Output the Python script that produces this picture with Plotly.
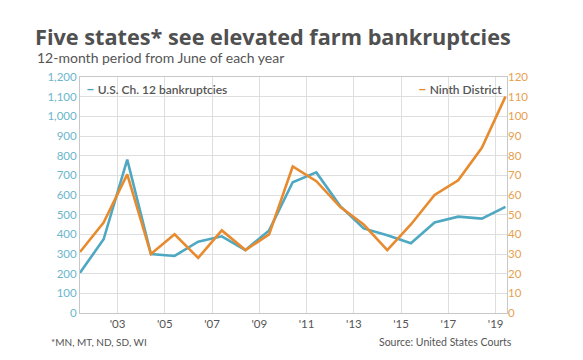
import plotly.graph_objects as go

years = list(range(2001, 2020))
us_ch12 = [205, 375, 780, 300, 290, 363, 390, 320, 420, 665, 715, 545, 430, 395, 355, 460, 490, 480, 540]
ninth = [31, 46, 70.5, 30, 40, 28, 42, 32, 40, 74.5, 67, 54, 45, 32, 45, 60, 67.5, 84, 110]

x_dates = [f"{y}-06-01" for y in years]

BLUE = "#4fa8c2"
ORANGE = "#e88a2e"
GRID = "#dedede"
TXT = "#555555"
FONT = "Lato"

# page has an 8px body margin; figure is sized/placed to compensate
OFF = 8
W, H = 583 - OFF, 360 - OFF
PL, PR, PT, PB = 80, 506.7, 77, 313   # plot box in page pixels
PW, PH = PR - PL, PB - PT

def px_x(x):
    return (x - PL) / PW

def px_y(y):
    return (PB - y) / PH

fig = go.Figure()
fig.add_trace(go.Scatter(x=x_dates, y=us_ch12, mode="lines", name="U.S. Ch. 12 bankruptcies",
                         line=dict(color=BLUE, width=2.6), yaxis="y"))
fig.add_trace(go.Scatter(x=x_dates, y=ninth, mode="lines", name="Ninth District",
                         line=dict(color=ORANGE, width=2.6), yaxis="y2"))

fig.update_layout(
    width=W, height=H,
    margin=dict(l=PL - OFF, r=583 - PR, t=PT - OFF, b=360 - PB),
    paper_bgcolor="white", plot_bgcolor="white",
    showlegend=False,
    font=dict(family=FONT, color=TXT),
    title=dict(text="Five states* see elevated farm bankruptcies",
               xref="container", yref="container", x=(35 - OFF) / W, y=1 - (37 - OFF) / H,
               xanchor="left", yanchor="middle",
               font=dict(family="Open Sans", size=21.7, color="#505050", weight=700)),
    xaxis=dict(type="date", range=["2001-06-01", "2019-06-25"],
               tick0="2003-01-01", dtick="M24", tickformat="'%y",
               showgrid=True, gridcolor=GRID, gridwidth=1,
               showline=True, linecolor="#c8c8c8", linewidth=1, mirror=True,
               ticks="", tickfont=dict(size=11.5, color=TXT), zeroline=False),
    yaxis=dict(range=[0, 1200], dtick=100, tickformat=",",
               showgrid=True, gridcolor=GRID, gridwidth=1,
               showline=True, linecolor="#c8c8c8", linewidth=1, mirror=True,
               ticks="", tickfont=dict(size=11.5, color="#6cb6cb"), zeroline=False),
    yaxis2=dict(range=[0, 120], dtick=10, overlaying="y", side="right",
                showgrid=False, showline=False, ticks="", zeroline=False,
                tickfont=dict(size=11.5, color="#e8a050")),
)

fig.add_annotation(text="12-month period from June of each year", xref="paper", yref="paper",
                   x=px_x(35), y=px_y(57.5), xanchor="left", yanchor="middle",
                   showarrow=False, font=dict(size=14, color=TXT, family=FONT))
fig.add_annotation(text=f"<span style='color:{BLUE};font-size:15px'><b>–</b></span> U.S. Ch. 12 bankruptcies",
                   xref="paper", yref="paper", x=px_x(84), y=px_y(88),
                   xanchor="left", yanchor="middle", showarrow=False,
                   font=dict(size=12, color=TXT, family=FONT, weight=600))
fig.add_annotation(text=f"<span style='color:{ORANGE};font-size:15px'><b>–</b></span> Ninth District",
                   xref="paper", yref="paper", x=px_x(504), y=px_y(88),
                   xanchor="right", yanchor="middle", showarrow=False,
                   font=dict(size=12, color=TXT, family=FONT, weight=600))
fig.add_annotation(text="*MN, MT, ND, SD, WI", xref="paper", yref="paper",
                   x=px_x(49), y=px_y(342), xanchor="left", yanchor="middle",
                   showarrow=False, font=dict(size=10, color=TXT, family=FONT))
fig.add_annotation(text="Source: United States Courts", xref="paper", yref="paper",
                   x=px_x(514), y=px_y(342), xanchor="right", yanchor="middle",
                   showarrow=False, font=dict(size=10.5, color=TXT, family=FONT))

fig.write_html("out.html")
